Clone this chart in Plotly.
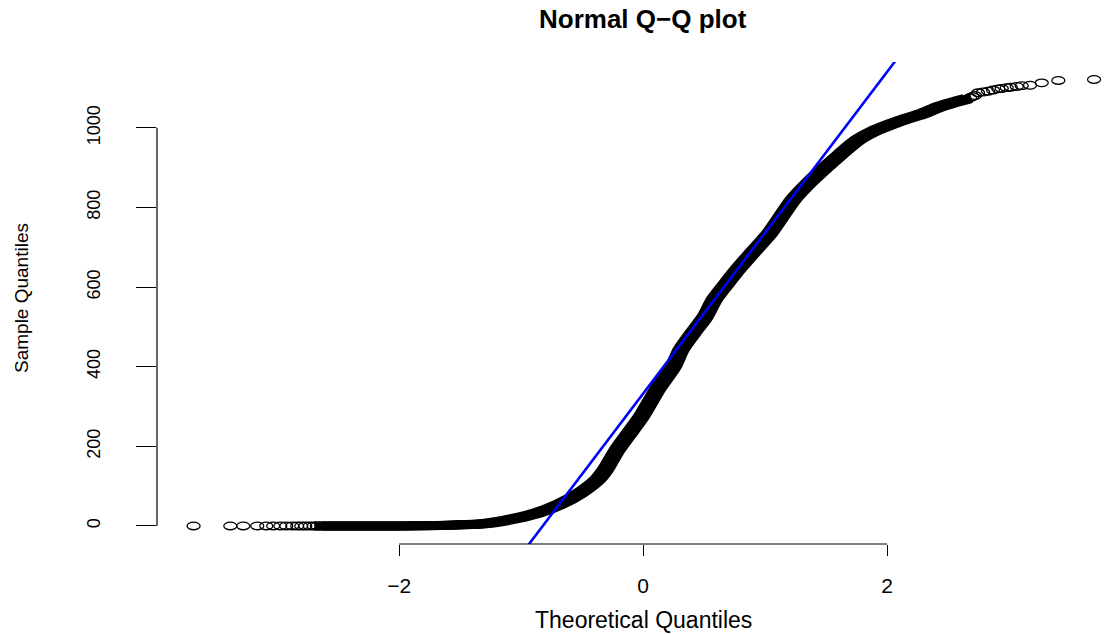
import plotly.graph_objects as go

# ---- data -----------------------------------------------------------------
# dense part of the normal Q-Q curve (theoretical quantile, sample quantile)
band_theo = [-2.664, -1.992, -1.664, -1.500, -1.336, -1.200, -1.066, -0.869,
             -0.680, -0.516, -0.377, -0.311, -0.213, -0.016, 0.115, 0.246,
             0.311, 0.410, 0.508, 0.582, 0.689, 0.795, 0.918, 1.041, 1.230,
             1.369, 1.475, 1.615, 1.754, 1.885, 2.025, 2.164, 2.295, 2.434,
             2.598, 2.660]
band_samp = [0.0, 0.0, 1.3, 2.8, 5.0, 10.0, 17.6, 32.7,
             55.3, 83.0, 115.7, 140.8, 191.1, 274.1, 342.0, 399.8,
             442.5, 485.3, 525.5, 568.3, 611.0, 651.2, 694.0, 736.7, 819.7,
             865.0, 895.1, 932.9, 968.1, 990.7, 1008.3, 1023.4, 1036.0, 1053.6,
             1068.6, 1073.5]

# individually visible points in the lower tail
low_theo = [-3.686, -3.385, -3.279, -3.164, -3.090, -3.033, -2.975, -2.926,
            -2.877, -2.836, -2.803, -2.770, -2.735, -2.702, -2.675]
low_samp = [0.0] * len(low_theo)

# individually visible points in the upper tail
high_theo = [3.697, 3.404, 3.268, 3.172, 3.104, 3.063, 3.014, 2.981,
             2.940, 2.912, 2.869, 2.828, 2.787, 2.746, 2.721, 2.700, 2.680]
high_samp = [1121.5, 1119.0, 1113.0, 1107.0, 1106.0, 1104.0, 1102.0, 1101.0,
             1099.0, 1098.0, 1095.0, 1092.0, 1090.0, 1088.0, 1081.2, 1078.5,
             1075.5]

# reference line through the quartiles
quart_theo = [-0.6745, 0.6745]
quart_samp = [60.0, 605.0]

x_ticks = [-2, 0, 2]
x_tick_text = ["\u22122", "0", "2"]
y_ticks = [0, 200, 400, 600, 800, 1000]

# ---- layout constants ---------------------------------------------------------
W, H = 1106, 634
ML, MR, MT, MB = 157, 0, 62, 90
XMIN, XMAX = -3.986, 3.795
YMIN, YMAX = -45.3, 1165.4
FONT = "Liberation Sans, Arial, Helvetica, sans-serif"

px_per_x = (W - ML - MR) / (XMAX - XMIN)

fig = go.Figure()

# thick band of overlapping open circles, drawn as a heavy stroke smeared sideways
for shift_px in (-4, 0, 4):
    dx = shift_px / px_per_x
    fig.add_trace(go.Scatter(
        x=[v + dx for v in band_theo], y=band_samp, mode="lines",
        line=dict(color="black", width=9, shape="spline", smoothing=0.7),
        hoverinfo="skip", showlegend=False,
    ))

# qqline: straight line through the first and third quartiles
slope = (quart_samp[1] - quart_samp[0]) / (quart_theo[1] - quart_theo[0])
icpt = quart_samp[0] - slope * quart_theo[0]
fig.add_trace(go.Scatter(
    x=[XMIN, XMAX], y=[icpt + slope * XMIN, icpt + slope * XMAX], mode="lines",
    line=dict(color="#0000ff", width=2.6), hoverinfo="skip", showlegend=False,
))

# open elliptical symbols for the sparse tail points
shapes = []
for xv, yv in list(zip(low_theo, low_samp)) + list(zip(high_theo, high_samp)):
    shapes.append(dict(
        type="circle", xref="x", yref="y",
        xsizemode="pixel", ysizemode="pixel",
        xanchor=xv, yanchor=yv, x0=-6.5, x1=6.5, y0=-3.8, y1=3.8,
        line=dict(color="black", width=1.3), fillcolor="rgba(0,0,0,0)",
    ))

# axis lines spanning only the outer ticks
shapes.append(dict(type="line", xref="x", yref="paper",
                   x0=x_ticks[0], x1=x_ticks[-1], y0=0, y1=0,
                   line=dict(color="black", width=1.2)))
shapes.append(dict(type="line", xref="paper", yref="y",
                   x0=0, x1=0, y0=y_ticks[0], y1=y_ticks[-1],
                   line=dict(color="black", width=1.2)))

plot_h = H - MT - MB
plot_w = W - ML - MR

fig.update_layout(
    template="none",
    width=W, height=H,
    margin=dict(l=ML, r=MR, t=MT, b=MB, pad=0),
    paper_bgcolor="white", plot_bgcolor="white",
    showlegend=False,
    font=dict(family=FONT, color="black"),
    shapes=shapes,
    xaxis=dict(
        range=[XMIN, XMAX], showgrid=False, zeroline=False, showline=False,
        tickmode="array", tickvals=x_ticks, ticktext=x_tick_text,
        ticks="outside", ticklen=11, tickwidth=1.2, tickcolor="black",
        tickfont=dict(size=21, family=FONT), ticklabelstandoff=12,
        automargin=False, fixedrange=True,
    ),
    yaxis=dict(
        range=[YMIN, YMAX], showgrid=False, zeroline=False, showline=False,
        tickmode="array", tickvals=y_ticks, tickangle=-90,
        ticks="outside", ticklen=20, tickwidth=1.2, tickcolor="black",
        tickfont=dict(size=18, family=FONT), ticklabelstandoff=29,
        automargin=False, fixedrange=True,
    ),
    annotations=[
        dict(text="<b>Normal Q\u2212Q plot</b>", xref="x", yref="paper",
             x=0, y=(H - MB - 18.8) / plot_h, xanchor="center", yanchor="middle",
             showarrow=False, font=dict(size=26, family=FONT)),
        dict(text="Theoretical Quantiles", xref="x", yref="paper",
             x=0, y=-(620 - (H - MB)) / plot_h, xanchor="center", yanchor="middle",
             showarrow=False, font=dict(size=23, family=FONT)),
        dict(text="Sample Quantiles", xref="paper", yref="paper",
             x=(21 - ML) / plot_w, y=(H - MB - 298) / plot_h,
             xanchor="center", yanchor="middle", textangle=-90,
             showarrow=False, font=dict(size=19, family=FONT)),
    ],
)

fig.write_html("out.html", config={"displayModeBar": False})
